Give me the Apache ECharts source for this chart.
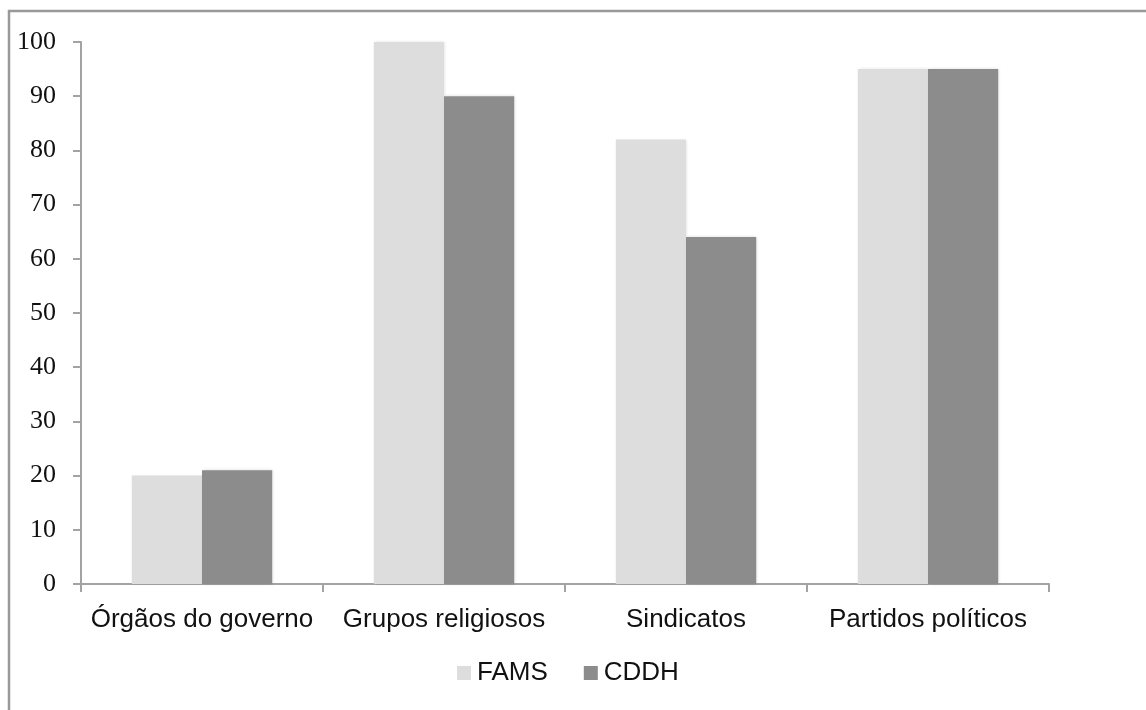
<!DOCTYPE html>
<html>
<head>
<meta charset="utf-8">
<script src="https://cdn.jsdelivr.net/npm/echarts@6/dist/echarts.min.js"></script>
<style>
html,body{margin:0;padding:0;background:#fff;}
#c{width:1146px;height:710px;}
</style>
</head>
<body>
<div id="c"></div>
<script>
const categories = ['Órgãos do governo', 'Grupos religiosos', 'Sindicatos', 'Partidos políticos'];
const famsValues = [20, 100, 82, 95];
const cddhValues = [21, 90, 64, 95];
const seriesNames = ['FAMS', 'CDDH'];

const chart = echarts.init(document.getElementById('c'), null, {renderer: 'canvas'});
const axisColor = '#a3a3a3';
chart.setOption({
  animation: false,
  backgroundColor: '#fff',
  graphic: [
    {type: 'line', shape: {x1: 9, y1: 10, x2: 9, y2: 710}, style: {stroke: '#999', lineWidth: 2.5}},
    {type: 'line', shape: {x1: 8, y1: 11, x2: 1146, y2: 11}, style: {stroke: '#999', lineWidth: 2.5}}
  ],
  grid: {left: 81, right: 97, top: 42, bottom: 126, containLabel: false},
  legend: {
    data: seriesNames,
    left: 452,
    top: 655,
    itemWidth: 14,
    itemHeight: 14,
    itemGap: 36,
    icon: 'rect',
    textStyle: {fontFamily: 'Liberation Sans, Arial', fontSize: 26, color: '#111', padding: [0, 0, 0, 1]}
  },
  xAxis: {
    type: 'category',
    data: categories,
    axisLine: {lineStyle: {color: axisColor, width: 2}},
    axisTick: {show: true, alignWithLabel: false, length: 8, lineStyle: {color: axisColor, width: 2}},
    axisLabel: {fontFamily: 'Liberation Sans, Arial', fontSize: 26, color: '#111', margin: 23, interval: 0}
  },
  yAxis: {
    type: 'value',
    min: 0,
    max: 100,
    interval: 10,
    splitLine: {show: false},
    axisLine: {show: true, lineStyle: {color: axisColor, width: 2}},
    axisTick: {show: true, length: 8, lineStyle: {color: axisColor, width: 2}},
    axisLabel: {fontFamily: 'Liberation Serif, DejaVu Serif, serif', fontSize: 26, color: '#111', margin: 25}
  },
  series: [
    {
      name: seriesNames[0],
      type: 'bar',
      data: famsValues,
      barGap: '0%',
      barCategoryGap: '42%',
      itemStyle: {color: '#dddddd', shadowColor: 'rgba(0,0,0,0.12)', shadowBlur: 3, shadowOffsetX: 1}
    },
    {
      name: seriesNames[1],
      type: 'bar',
      data: cddhValues,
      itemStyle: {color: '#8c8c8c', shadowColor: 'rgba(0,0,0,0.15)', shadowBlur: 3, shadowOffsetX: 1}
    }
  ]
});
</script>
</body>
</html>
